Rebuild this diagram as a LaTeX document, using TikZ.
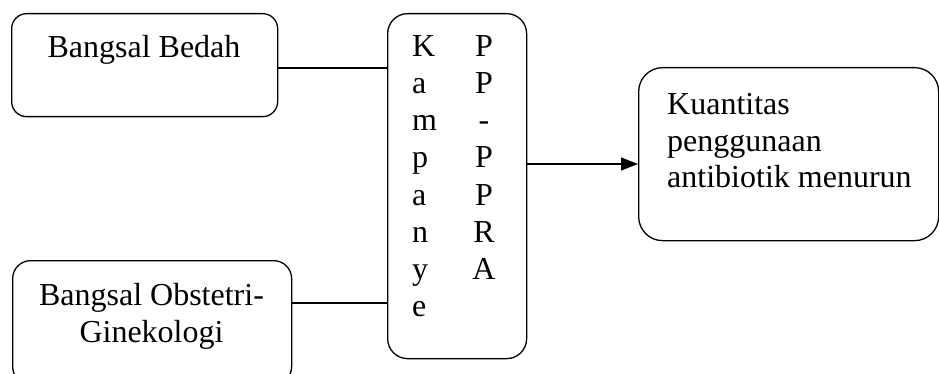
\documentclass[tikz,border=0pt]{standalone}
\usepackage{fontspec}
\setmainfont{Liberation Serif}
\usetikzlibrary{arrows.meta}
\begin{document}
\begin{tikzpicture}[x=1pt,y=-1pt,
  box/.style={draw, line width=1.3pt, rounded corners=#1, inner sep=0pt, anchor=north west},
  txt/.style={font=\fontsize{32}{37}\selectfont, inner sep=0pt},
  conn/.style={line width=1.3pt}]
\useasboundingbox (0,0) rectangle (939,374);
% boxes
\node[box=15pt, minimum width=266pt, minimum height=103pt] (b1) at (11,13) {};
\node[box=18pt, minimum width=279pt, minimum height=124pt] (b2) at (12,260) {};
\node[box=20pt, minimum width=139pt, minimum height=345pt] (kamp) at (387,13) {};
\node[box=24pt, minimum width=300pt, minimum height=173pt] (res) at (638,67) {};
% texts
\node[txt, anchor=base] (t1) at (144,58) {Bangsal Bedah};
\node[txt, anchor=base] (t2a) at (151.5,305) {Bangsal Obstetri-};
\node[txt, anchor=base] (t2b) at (151.5,342) {Ginekologi};
\foreach \l [count=\i] in {K,a,m,p,a,n,y,e}
  \node[txt, anchor=base west] (kl\i) at ({412},{57+37*(\i-1)}) {\l};
\foreach \l [count=\i] in {P,P,-,P,P,R,A}
  \node[txt, anchor=base] (kr\i) at ({484},{57+37*(\i-1)}) {\l};
\node[txt, anchor=base west] (r1) at (667,115) {Kuantitas};
\node[txt, anchor=base west] (r2) at (667,152) {penggunaan};
\node[txt, anchor=base west] (r3) at (667,188) {antibiotik menurun};
% connectors
\coordinate (y1) at (0,68);
\coordinate (y2) at (0,303);
\coordinate (y3) at (0,164);
\draw[conn] (y1 -| b1.east) -- (y1 -| kamp.west);
\draw[conn] (y2 -| b2.east) -- (y2 -| kamp.west);
\draw[conn, -{Triangle[length=17pt,width=13pt]}] (y3 -| kamp.east) -- (y3 -| res.west);
\end{tikzpicture}
\end{document}
